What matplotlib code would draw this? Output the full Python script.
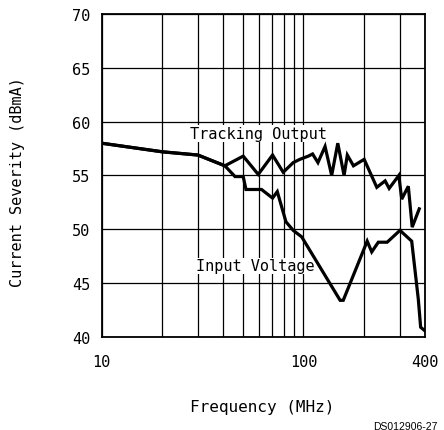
import matplotlib
matplotlib.use("Agg")
import matplotlib.pyplot as plt
from matplotlib.ticker import FixedLocator, NullFormatter

# Tracking Output (upper curve)
track_f = [10, 20, 30, 40.8, 50.3, 59.7, 70.3, 79.4, 89, 96, 105.7, 111, 118, 128,
           138, 148, 159, 165, 177, 200, 231, 254, 266, 297, 307, 331, 346, 375]
track_db = [58.0, 57.2, 56.9, 55.9, 56.8, 55.1, 56.9, 55.3, 56.2, 56.5, 56.8, 57.0, 56.2, 57.7,
            55.0, 58.0, 55.0, 56.9, 55.9, 56.5, 53.9, 54.5, 53.8, 55.0, 52.8, 54.0, 50.2, 51.9]

# Input Voltage (lower curve)
input_f = [10, 20, 30, 40.8, 45.8, 50.3, 51.9, 62, 70.3, 74.2, 81.9, 89, 98, 152, 157.5,
           207, 218, 235, 260, 301, 344, 371, 381, 398]
input_db = [58.0, 57.2, 56.9, 55.9, 54.9, 54.9, 53.7, 53.7, 52.9, 53.5, 50.7, 49.9, 49.3, 43.4, 43.4,
            48.9, 47.9, 48.8, 48.8, 49.9, 48.9, 43.5, 40.9, 40.6]

x_ticks = [10, 100, 400]
x_grid = [20, 30, 40, 50, 60, 70, 80, 90, 200, 300]
y_ticks = [40, 45, 50, 55, 60, 65, 70]

plt.rcParams['font.family'] = ['DejaVu Sans Mono', 'DejaVu Sans']

fig = plt.figure(figsize=(4.44, 4.31), dpi=100)
ax = fig.add_axes([0.229, 0.216, 0.728, 0.749])

ax.plot(input_f, input_db, color="black", lw=2.3, solid_joinstyle="miter", zorder=3)
ax.plot(track_f, track_db, color="black", lw=2.3, solid_joinstyle="miter", zorder=3)

ax.set_xscale("log")
ax.set_xlim(10, 400)
ax.set_ylim(40, 70)
ax.xaxis.set_major_locator(FixedLocator(x_ticks))
ax.xaxis.set_minor_locator(FixedLocator(x_grid))
ax.xaxis.set_minor_formatter(NullFormatter())
ax.set_xticklabels([str(t) for t in x_ticks])
ax.set_yticks(y_ticks)
ax.tick_params(which="both", length=0, labelsize=11)
ax.tick_params(axis="y", pad=8)
ax.tick_params(axis="x", pad=12)
ax.grid(True, which="both", color="black", lw=0.9)
for s in ax.spines.values():
    s.set_linewidth(1.3)

ax.text(27.4, 58.9, "Tracking Output", fontsize=11, va="center", ha="left",
        bbox=dict(facecolor="white", edgecolor="none", pad=0.5), zorder=2)
ax.text(29.3, 46.6, "Input Voltage", fontsize=11, va="center", ha="left",
        bbox=dict(facecolor="white", edgecolor="none", pad=0.5), zorder=2)

fig.text(262 / 444, 1 - 408 / 431, "Frequency (MHz)", fontsize=11.5, ha="center", va="center")
fig.text(18 / 444, 1 - 182 / 431, "Current Severity (dBmA)", fontsize=11, rotation=90,
         ha="center", va="center")
fig.text(437 / 444, 1 - 427 / 431, "DS012906-27", fontsize=7.5, ha="right", va="center",
         family="Liberation Sans")

fig.savefig("out.png", dpi=100)
